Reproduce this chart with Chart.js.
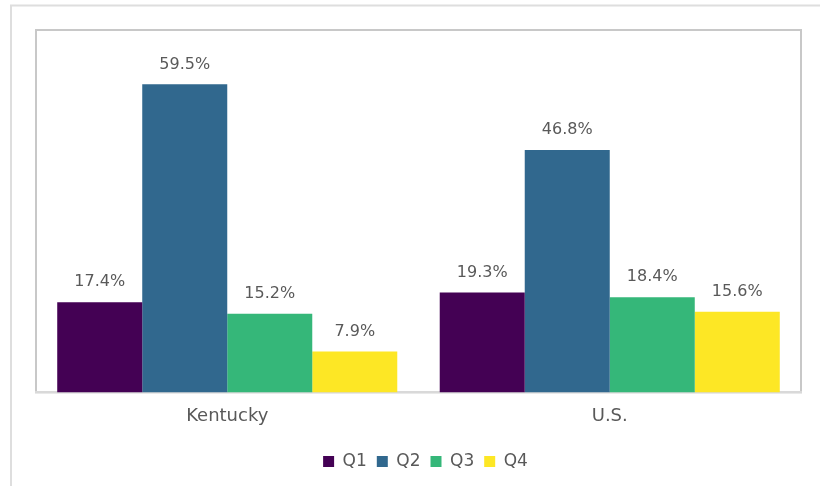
<!DOCTYPE html>
<html>
<head>
<meta charset="utf-8">
<script src="https://cdn.jsdelivr.net/npm/chart.js@4"></script>
<style>
  html, body { margin: 0; padding: 0; background: #fff; }
  #wrap { width: 820px; height: 486px; position: relative; }
</style>
</head>
<body>
<div id="wrap"><canvas id="chart"></canvas></div>
<script>
const regions = ["Kentucky", "U.S."];
const quartiles = ["Q1", "Q2", "Q3", "Q4"];
const q1 = [17.4, 19.3];
const q2 = [59.5, 46.8];
const q3 = [15.2, 18.4];
const q4 = [7.9, 15.6];
const colors = ["#440154", "#31688e", "#35b779", "#fde725"];

const textGray = "#595959";
const fontFam = "'DejaVu Sans', sans-serif";

// frame around the whole picture and the plot box
const framePlugin = {
  id: "frame",
  afterLayout(chart) {
    // nudge legend a bit to the right
    chart.legend.left += 7;
    chart.legend.right += 7;
  },
  beforeDraw(chart) {
    const ctx = chart.ctx, a = chart.chartArea;
    ctx.save();
    ctx.strokeStyle = "#dedede";
    ctx.lineWidth = 2;
    ctx.beginPath();
    ctx.moveTo(11, 486);
    ctx.lineTo(11, 5.5);
    ctx.lineTo(820, 5.5);
    ctx.stroke();
    ctx.strokeStyle = "#c8c8c8";
    ctx.lineWidth = 2;
    ctx.strokeRect(a.left, a.top, a.right - a.left, a.bottom - a.top);
    ctx.restore();
  }
};

// value labels above each bar
const labelPlugin = {
  id: "barLabels",
  afterDatasetsDraw(chart) {
    const ctx = chart.ctx;
    ctx.save();
    ctx.fillStyle = textGray;
    ctx.font = "16px " + fontFam;
    ctx.textAlign = "center";
    ctx.textBaseline = "bottom";
    chart.data.datasets.forEach((ds, i) => {
      chart.getDatasetMeta(i).data.forEach((bar, j) => {
        ctx.fillText(ds.data[j].toFixed(1) + "%", bar.x, bar.y - 12);
      });
    });
    ctx.restore();
  }
};

new Chart(document.getElementById("chart"), {
  type: "bar",
  data: {
    labels: regions,
    datasets: [q1, q2, q3, q4].map((d, i) => ({
      label: quartiles[i],
      data: d,
      backgroundColor: colors[i],
      borderWidth: 0,
      barPercentage: 1,
      categoryPercentage: 0.889
    }))
  },
  options: {
    responsive: true,
    maintainAspectRatio: false,
    animation: false,
    layout: { padding: { left: 36, right: 19, top: 30, bottom: 6 } },
    scales: {
      x: {
        grid: { display: false },
        border: { display: true, color: "#d9d9d9", width: 2 },
        ticks: { color: textGray, font: { family: fontFam, size: 18 }, padding: 5 },
        afterFit(scale) { scale.height += 11; }
      },
      y: { display: false, min: 0, max: 70 }
    },
    plugins: {
      legend: {
        position: "bottom",
        labels: {
          color: textGray,
          font: { family: fontFam, size: 17 },
          boxWidth: 11,
          boxHeight: 11,
          padding: 10
        }
      },
      tooltip: { enabled: false }
    }
  },
  plugins: [framePlugin, labelPlugin]
});
</script>
</body>
</html>
